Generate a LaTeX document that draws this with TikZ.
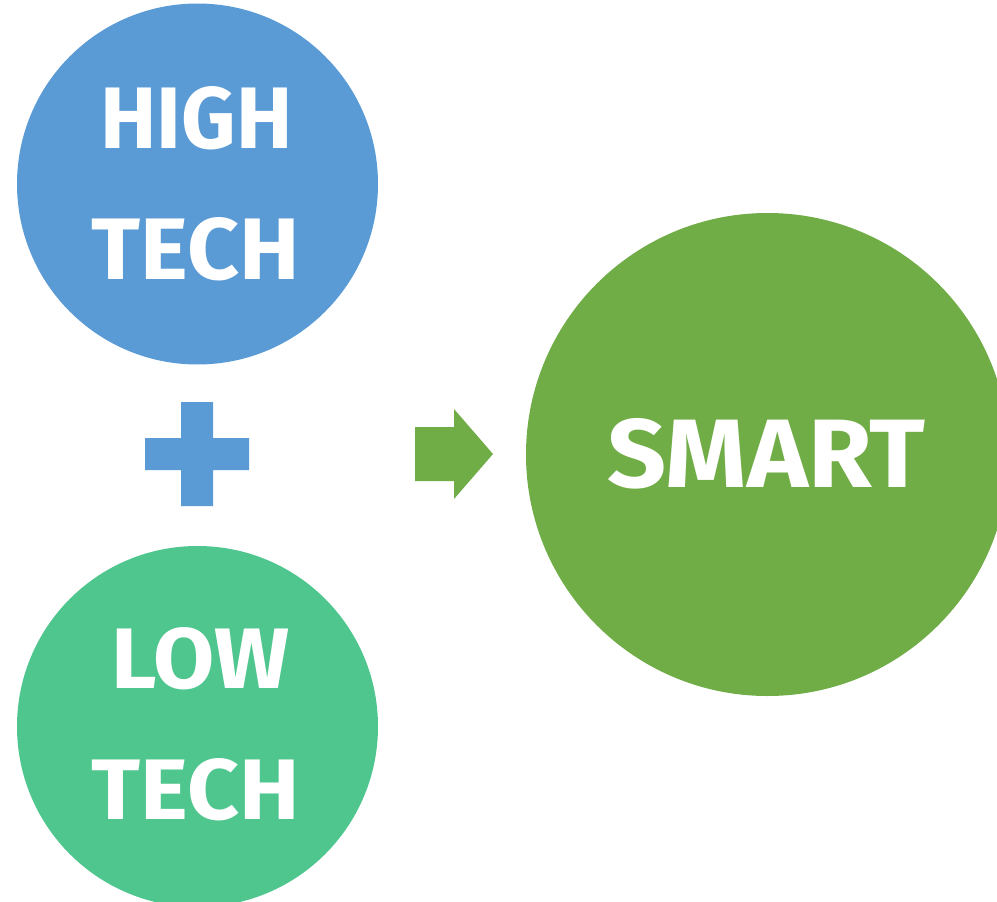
\documentclass[tikz,border=0pt]{standalone}
\usepackage{fontspec}
\setmainfont{Fira Sans}
\usepackage{graphicx}
\definecolor{hiblue}{RGB}{91,155,213}
\definecolor{lowgreen}{RGB}{80,198,143}
\definecolor{smartgreen}{RGB}{112,173,71}
\tikzset{
  disc/.style={circle, inner sep=0pt, minimum size=#1},
  word/.style={inner sep=0pt, text=white, font=\bfseries},
}
\newcommand{\fitword}[3]{\resizebox{#1pt}{#2pt}{#3}}
\begin{document}
\begin{tikzpicture}[x=1pt,y=1pt]
\useasboundingbox (0,0) rectangle (997,-902);
\clip (0,0) rectangle (997,-902);
% circles
\node[disc=361pt, fill=hiblue] (high) at (197.5,-184) {};
\node[disc=361pt, fill=lowgreen] (low) at (197.5,-726.5) {};
\node[disc=483pt, fill=smartgreen] (smart) at (767.5,-454.5) {};
% texts
\node[word] (t1) at (196.5,-118) {\fitword{192}{62}{HIGH}};
\node[word] (t2) at (195.5,-249) {\fitword{208}{62}{TECH}};
\node[word] (t3) at (200.5,-658.5) {\fitword{178}{61}{LOW}};
\node[word] (t4) at (195.5,-789.5) {\fitword{208}{61}{TECH}};
\node[word] (t5) at (766.5,-453.5) {\fitword{318}{69}{SMART}};
% plus sign
\fill[hiblue] (181,-402) -- (213,-402) -- (213,-438) -- (249,-438) -- (249,-470)
  -- (213,-470) -- (213,-506) -- (181,-506) -- (181,-470) -- (145,-470)
  -- (145,-438) -- (181,-438) -- cycle;
% arrow
\fill[smartgreen] (415,-427) -- (454,-427) -- (454,-409) -- (493,-454)
  -- (454,-499) -- (454,-481) -- (415,-481) -- cycle;
\end{tikzpicture}
\end{document}
